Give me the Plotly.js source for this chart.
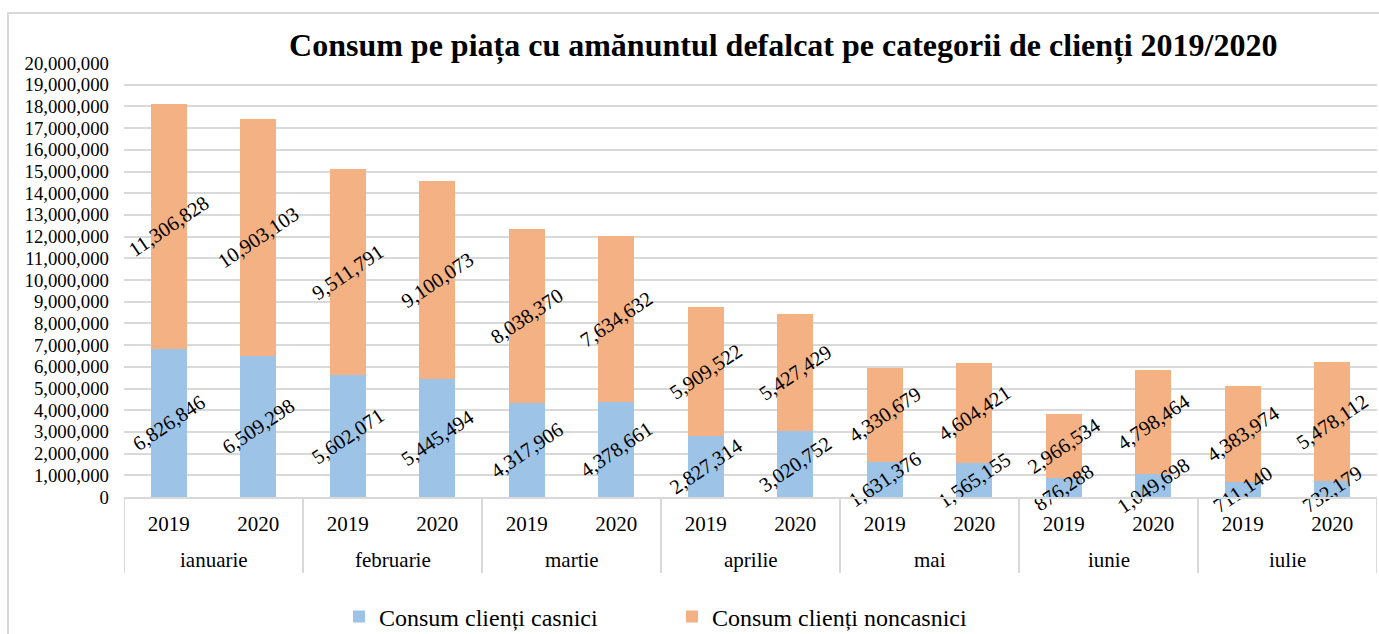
<!DOCTYPE html>
<html>
<head>
<meta charset="utf-8">
<script src="https://cdn.plot.ly/plotly-3.0.1.min.js"></script>
<style>
html,body{margin:0;padding:0;background:#fff;overflow:hidden;}
#chart{width:1379px;height:634px;position:absolute;left:0;top:0;}
#frame{position:absolute;left:7px;top:12px;width:1400px;height:700px;border:2px solid #d9d9d9;pointer-events:none;}
</style>
</head>
<body>
<div id="frame"></div>
<div id="chart"></div>
<script>
var monthNames = ["ianuarie","februarie","martie","aprilie","mai","iunie","iulie"];
var years = ["2019","2020","2019","2020","2019","2020","2019","2020","2019","2020","2019","2020","2019","2020"];
var casnici = [6826846,6509298,5602071,5445494,4317906,4378661,2827314,3020752,1631376,1565155,876288,1049698,711140,732179];
var noncasnici = [11306828,10903103,9511791,9100073,8038370,7634632,5909522,5427429,4330679,4604421,2966534,4798464,4383974,5478112];
var seriesNames = ["Consum clienți casnici","Consum clienți noncasnici"];
var yTicks = [0,1000000,2000000,3000000,4000000,5000000,6000000,7000000,8000000,9000000,10000000,11000000,12000000,13000000,14000000,15000000,16000000,17000000,18000000,19000000,20000000];

var FONT = "'Liberation Serif','Times New Roman',serif";
function fmt(v){return v.toLocaleString('en-US');}
var xi = years.map(function(_, i){return i;});

function mk(vals, name, color){
  return {
    type:'bar', x:xi, y:vals, name:name,
    marker:{color:color, line:{width:0}},
    text: vals.map(fmt), texttemplate:'%{text}',
    textposition:'inside', insidetextanchor:'middle', textangle:-34,
    constraintext:'none', cliponaxis:false,
    insidetextfont:{family:FONT, size:20.5, color:'#000'},
    hoverinfo:'skip'
  };
}

var data = [mk(casnici, seriesNames[0], '#9DC3E6'), mk(noncasnici, seriesNames[1], '#F4B183')];

var shapes = [];
var annotations = [];
for (var g = 0; g <= monthNames.length; g++) {
  shapes.push({type:'line', xref:'x', yref:'paper', x0:g*2-0.5, x1:g*2-0.5, y0:0, y1:-76/434,
    line:{color:'#d9d9d9', width:2}});
}
monthNames.forEach(function(m, g){
  annotations.push({xref:'x', yref:'paper', x:g*2+0.5, y:-63/434, yanchor:'middle', xanchor:'center',
    text:m, showarrow:false, font:{family:FONT, size:21, color:'#000'}});
});

var layout = {
  width:1379, height:634,
  margin:{l:124, r:2, t:63, b:137},
  paper_bgcolor:'rgba(0,0,0,0)', plot_bgcolor:'rgba(0,0,0,0)',
  barmode:'stack', bargap:0.6,
  font:{family:FONT, color:'#000'},
  title:{text:'<b>Consum pe piața cu amănuntul defalcat pe categorii de clienți 2019/2020</b>',
    font:{family:FONT, size:32, color:'#000'}, x:0.568, xref:'container', xanchor:'center',
    y:1-45/634, yref:'container', yanchor:'middle'},
  xaxis:{type:'linear', range:[-0.5, 13.5], tickvals:xi, ticktext:years, automargin:false,
    showline:true, linecolor:'#d9d9d9', linewidth:2, ticks:'', ticklabelstandoff:7,
    tickfont:{family:FONT, size:21, color:'#000'}, showgrid:false, zeroline:false, fixedrange:true},
  yaxis:{range:[0,20000000], tickvals:yTicks, ticktext:yTicks.map(fmt), automargin:false,
    showgrid:true, gridcolor:'#d9d9d9', gridwidth:2, zeroline:false, showline:false,
    ticks:'', ticklabelstandoff:14, tickfont:{family:FONT, size:18.8, color:'#000'}},
  shapes:shapes,
  annotations:annotations,
  showlegend:true,
  legend:{orientation:'h', x:0.1716, xanchor:'left', y:1-617/634, yref:'container', yanchor:'middle',
    font:{family:FONT, size:24, color:'#000'}, traceorder:'normal',
    entrywidth:288, entrywidthmode:'pixels', itemwidth:30}
};

Plotly.newPlot('chart', data, layout, {displayModeBar:false, staticPlot:true}).then(function(gd){
  // bring all bar labels above every bar so labels are not hidden by the stacked segment above
  var layer = gd.querySelector('.barlayer');
  if (!layer) return;
  var texts = layer.querySelectorAll('text.bartext');
  var top = document.createElementNS('http://www.w3.org/2000/svg', 'g');
  layer.appendChild(top);
  texts.forEach(function(t){
    var p = t.parentNode;
    var tr = p && p.getAttribute('transform');
    if (tr) { var w = document.createElementNS('http://www.w3.org/2000/svg','g'); w.setAttribute('transform', tr); w.appendChild(t); top.appendChild(w); }
    else top.appendChild(t);
  });
});
</script>
</body>
</html>
